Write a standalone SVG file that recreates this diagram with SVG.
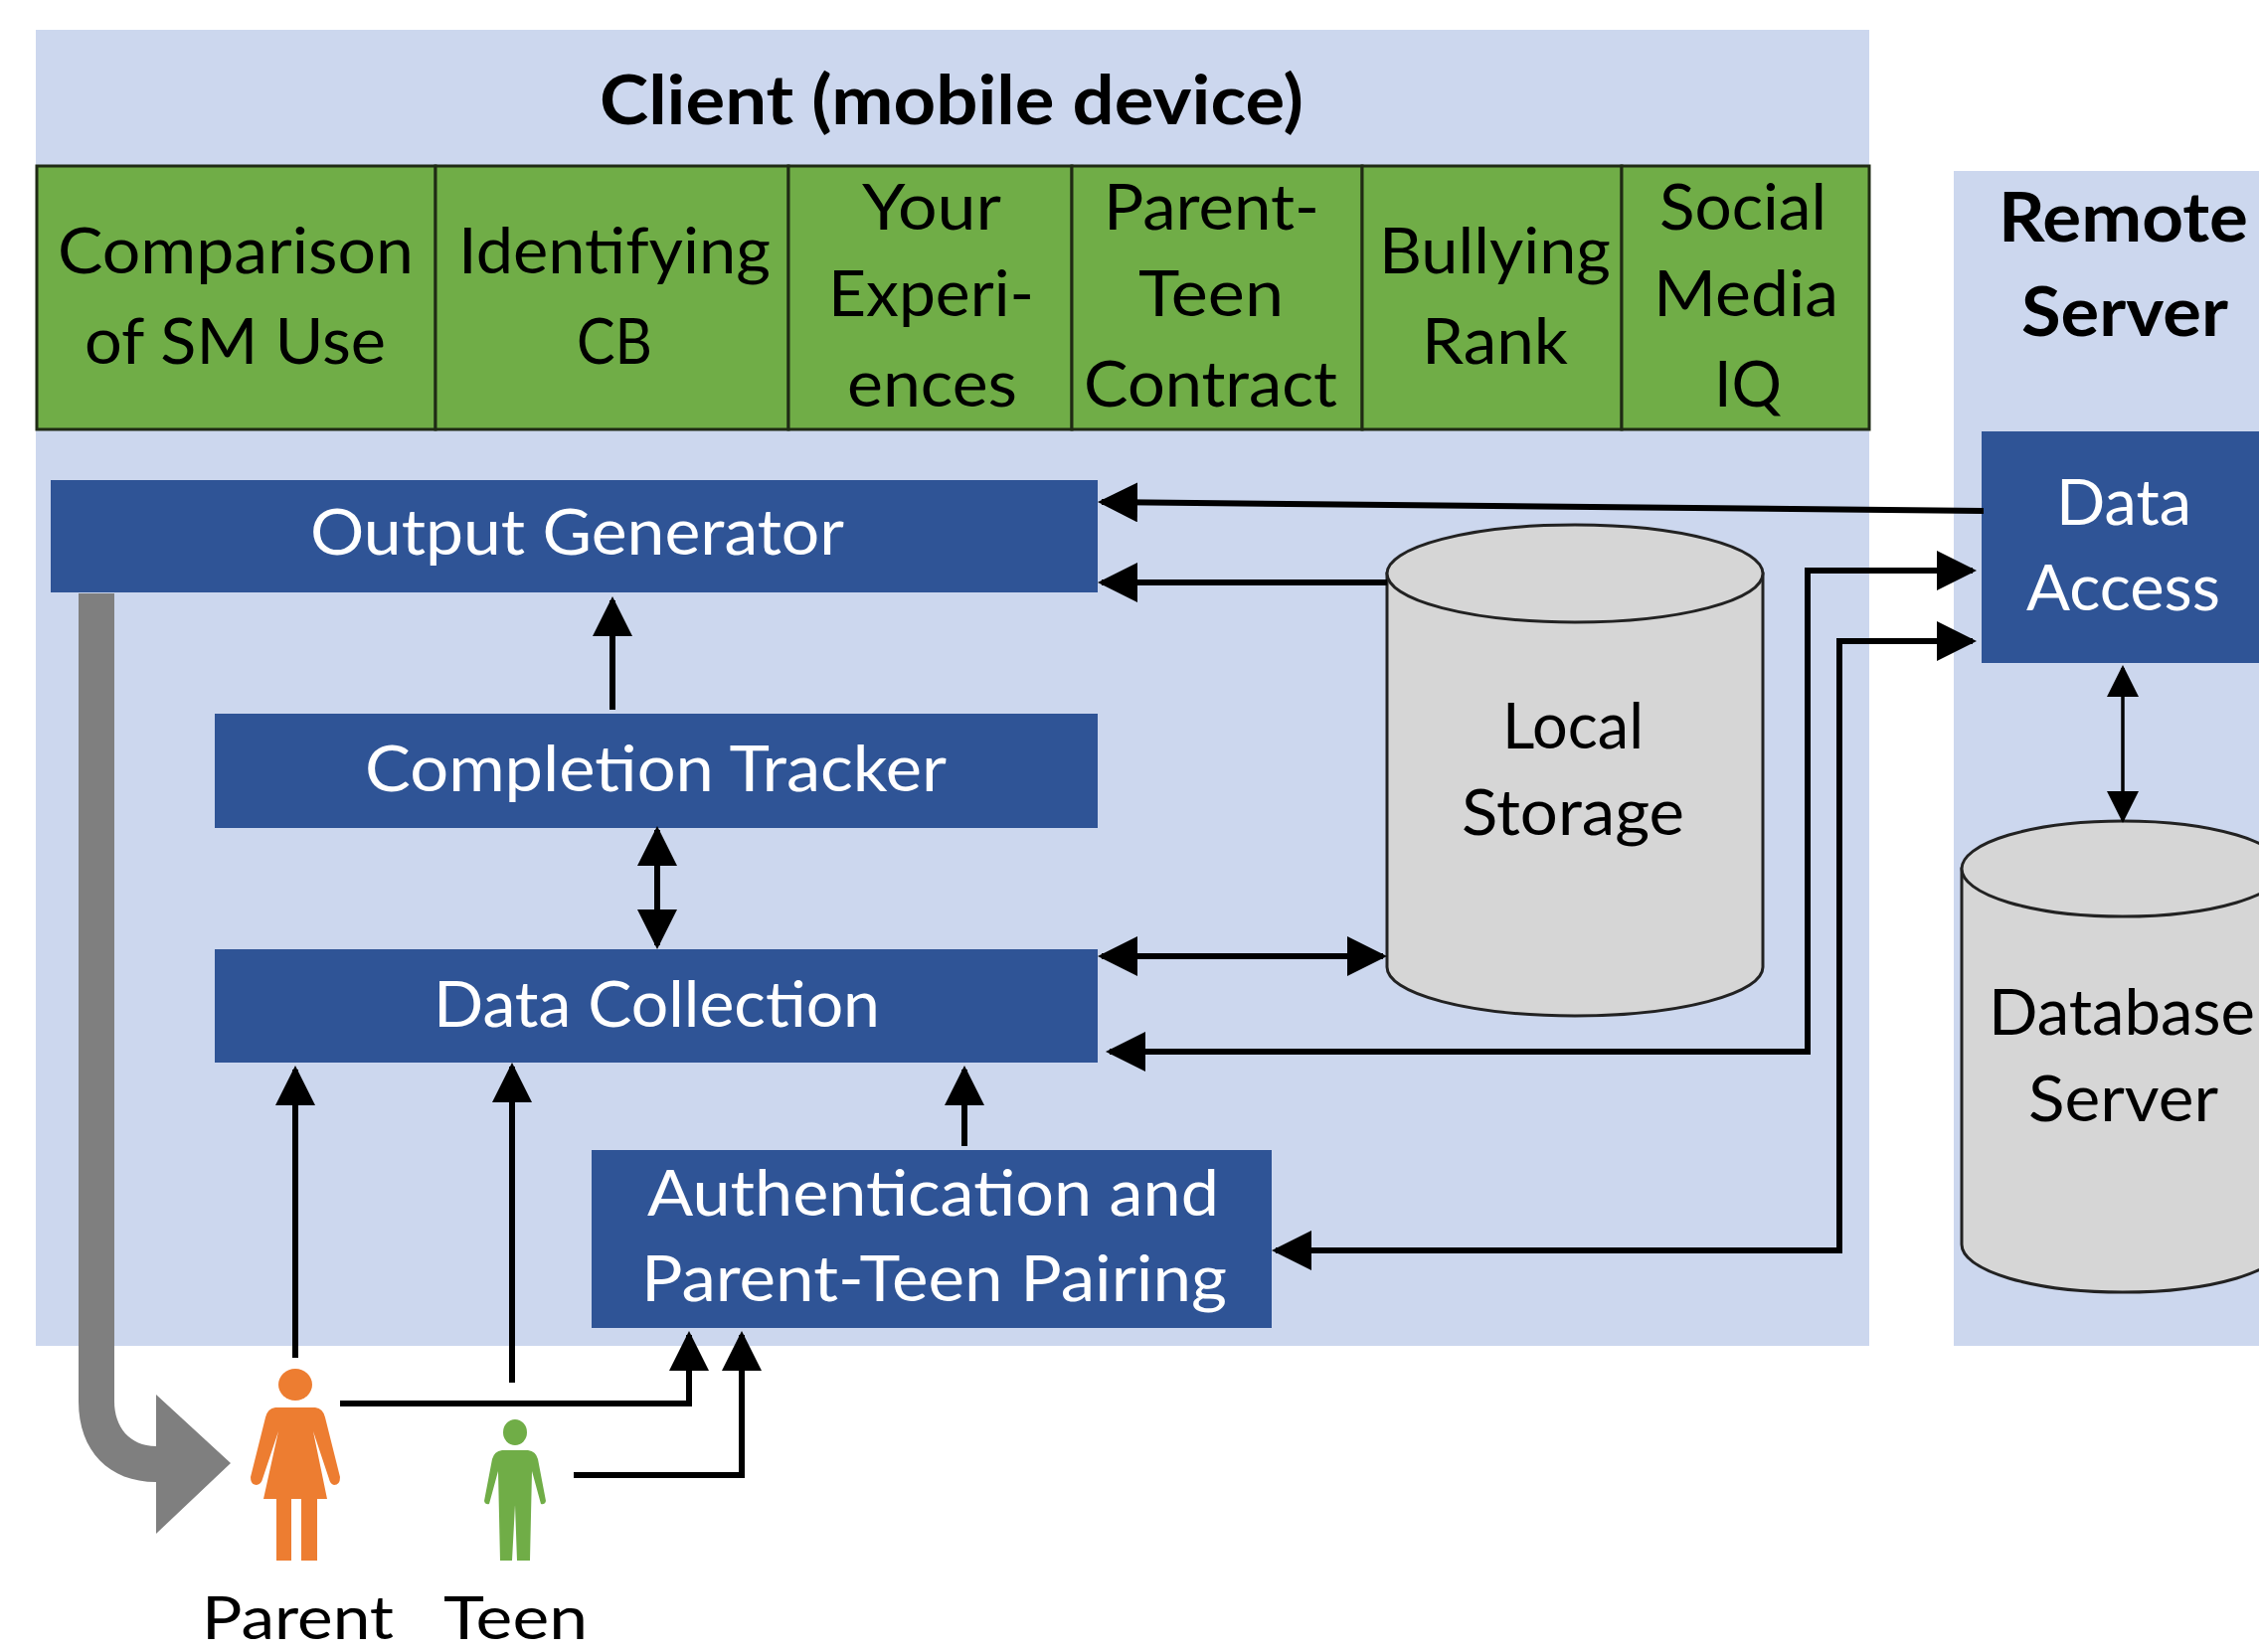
<svg xmlns="http://www.w3.org/2000/svg" width="2272" height="1662" viewBox="0 0 2272 1662">
<style>
text{font-family:Lato,"Liberation Sans",sans-serif;font-size:64px;fill:#000}
.b{font-weight:700;font-size:68px}
.lbl{font-size:60px}
.w{fill:#fff}
.panel{fill:#CCD7EE}
.tab{fill:#70AD47;stroke:#1F2A14;stroke-width:3}
.box{fill:#2F5496}
.db{fill:#D6D6D6;stroke:#222;stroke-width:3}
.c{fill:none;stroke:#000;stroke-width:6;stroke-linejoin:miter}
.t{stroke-width:3.5}
</style>
<defs>
<marker id="a" viewBox="0 0 40 40" refX="36" refY="20" markerWidth="40" markerHeight="40" markerUnits="userSpaceOnUse" orient="auto-start-reverse"><path d="M0,0L40,20L0,40Z"/></marker>
<marker id="s" viewBox="0 0 32 32" refX="29" refY="16" markerWidth="32" markerHeight="32" markerUnits="userSpaceOnUse" orient="auto-start-reverse"><path d="M0,0L32,16L0,32Z"/></marker>
</defs>
<rect width="2272" height="1662" fill="#fff"/>
<g id="client"><rect class="panel" x="36" y="30" width="1844" height="1324"/>
<text class="b" x="603" y="125" textLength="708" lengthAdjust="spacingAndGlyphs">Client (mobile device)</text></g>
<g id="remote"><rect class="panel" x="1965" y="172" width="307" height="1182"/>
<text class="b" x="2010" y="243" textLength="251" lengthAdjust="spacingAndGlyphs">Remote</text>
<text class="b" x="2033" y="338" textLength="208" lengthAdjust="spacingAndGlyphs">Server</text></g>

<g id="tab-comparison"><rect class="tab" x="37" y="167" width="401" height="265"/>
<text x="58" y="275" textLength="358" lengthAdjust="spacingAndGlyphs">Comparison</text><text x="85" y="366" textLength="303" lengthAdjust="spacingAndGlyphs">of SM Use</text></g>
<g id="tab-identifying"><rect class="tab" x="438" y="167" width="355" height="265"/>
<text x="461" y="275" textLength="314" lengthAdjust="spacingAndGlyphs">Identifying</text><text x="580" y="366" textLength="76" lengthAdjust="spacingAndGlyphs">CB</text></g>
<g id="tab-experiences"><rect class="tab" x="793" y="167" width="285" height="265"/>
<text x="867" y="231" textLength="140" lengthAdjust="spacingAndGlyphs">Your</text><text x="833" y="318" textLength="207" lengthAdjust="spacingAndGlyphs">Experi-</text><text x="852" y="409" textLength="171" lengthAdjust="spacingAndGlyphs">ences</text></g>
<g id="tab-contract"><rect class="tab" x="1078" y="167" width="292" height="265"/>
<text x="1110" y="231" textLength="217" lengthAdjust="spacingAndGlyphs">Parent-</text><text x="1145" y="318" textLength="146" lengthAdjust="spacingAndGlyphs">Teen</text><text x="1090" y="409" textLength="255" lengthAdjust="spacingAndGlyphs">Contract</text></g>
<g id="tab-bullying"><rect class="tab" x="1370" y="167" width="261" height="265"/>
<text x="1387" y="275" textLength="233" lengthAdjust="spacingAndGlyphs">Bullying</text><text x="1430" y="366" textLength="147" lengthAdjust="spacingAndGlyphs">Rank</text></g>
<g id="tab-iq"><rect class="tab" x="1631" y="167" width="249" height="265"/>
<text x="1669" y="231" textLength="168" lengthAdjust="spacingAndGlyphs">Social</text><text x="1663" y="318" textLength="186" lengthAdjust="spacingAndGlyphs">Media</text><text x="1724" y="409" textLength="68" lengthAdjust="spacingAndGlyphs">IQ</text></g>

<g id="output-generator"><rect class="box" x="51" y="483" width="1053" height="113"/>
<text class="w" x="312" y="558" textLength="537" lengthAdjust="spacingAndGlyphs">Output Generator</text></g>
<g id="completion-tracker"><rect class="box" x="216" y="718" width="888" height="115"/>
<text class="w" x="367" y="796" textLength="585" lengthAdjust="spacingAndGlyphs">Completion Tracker</text></g>
<g id="data-collection"><rect class="box" x="216" y="955" width="888" height="114"/>
<text class="w" x="436" y="1033" textLength="449" lengthAdjust="spacingAndGlyphs">Data Collection</text></g>
<g id="authentication"><rect class="box" x="595" y="1157" width="684" height="179"/>
<text class="w" x="651" y="1223" textLength="575" lengthAdjust="spacingAndGlyphs">Authentication and</text>
<text class="w" x="645" y="1309" textLength="589" lengthAdjust="spacingAndGlyphs">Parent-Teen Pairing</text></g>
<g id="data-access"><rect class="box" x="1993" y="434" width="279" height="233"/>
<text class="w" x="2068" y="528" textLength="136" lengthAdjust="spacingAndGlyphs">Data</text>
<text class="w" x="2038" y="614" textLength="195" lengthAdjust="spacingAndGlyphs">Access</text></g>

<g id="local-storage"><path class="db" d="M1395,577V973A189,49 0 0 0 1773,973V577Z"/><ellipse class="db" cx="1584" cy="577" rx="189" ry="49"/>
<text x="1511" y="753" textLength="142" lengthAdjust="spacingAndGlyphs">Local</text><text x="1470" y="840" textLength="224" lengthAdjust="spacingAndGlyphs">Storage</text></g>
<g id="database-server"><path class="db" d="M1973,874V1252A162,48 0 0 0 2297,1252V874Z"/><ellipse class="db" cx="2135" cy="874" rx="162" ry="48"/>
<text x="2000" y="1041" textLength="268" lengthAdjust="spacingAndGlyphs">Database</text><text x="2040" y="1128" textLength="191" lengthAdjust="spacingAndGlyphs">Server</text></g>

<g id="connectors">
<path class="c" d="M1995,514L1108,505" marker-end="url(#a)"/>
<path class="c" d="M1395,586H1108" marker-end="url(#a)"/>
<path class="c" d="M616,714V604" marker-end="url(#a)"/>
<path class="c" d="M661,835V951" marker-start="url(#a)" marker-end="url(#a)"/>
<path class="c" d="M1108,962H1391" marker-start="url(#a)" marker-end="url(#a)"/>
<path class="c" d="M1116,1058H1818V574H1984" marker-start="url(#a)" marker-end="url(#a)"/>
<path class="c" d="M1283,1258H1850V645H1984" marker-start="url(#a)" marker-end="url(#a)"/>
<path class="c t" d="M2135,672V825" marker-start="url(#s)" marker-end="url(#s)"/>
<path class="c" d="M297,1366V1076" marker-end="url(#a)"/>
<path class="c" d="M515,1391V1073" marker-end="url(#a)"/>
<path class="c" d="M970,1153V1076" marker-end="url(#a)"/>
<path class="c" d="M342,1412H693V1343" marker-end="url(#a)"/>
<path class="c" d="M577,1484H746V1343" marker-end="url(#a)"/>
<path id="output-flow" fill="#7F7F7F" d="M79,597H115V1410C115,1435 130,1455 157,1455V1403L232,1472L157,1543V1491C110,1491 79,1460 79,1410Z"/>
</g>

<g id="parent"><ellipse cx="297" cy="1393" rx="17" ry="16" fill="#ED7D31"/>
<path fill="#ED7D31" d="M277,1416H317Q325,1417 327,1426L342,1486Q342,1494 336,1494Q332,1493 331,1488L315,1440L329,1508H319V1570H303V1508H293V1570H278V1508H265L280,1440L264,1488Q263,1493 258,1494Q252,1494 252,1486L267,1426Q269,1417 277,1416Z"/>
<text class="lbl" x="203" y="1649" textLength="193" lengthAdjust="spacingAndGlyphs">Parent</text></g>
<g id="teen"><ellipse cx="518" cy="1441" rx="12" ry="13" fill="#70AD47"/>
<path fill="#70AD47" d="M505,1459H531Q539,1460 541,1468L549,1510Q548,1514 544,1513L535,1480L533,1570H520L518,1514L515,1570H503L501,1480L492,1513Q488,1514 487,1510L495,1468Q497,1460 505,1459Z"/>
<text class="lbl" x="446" y="1649" textLength="145" lengthAdjust="spacingAndGlyphs">Teen</text></g>
</svg>
